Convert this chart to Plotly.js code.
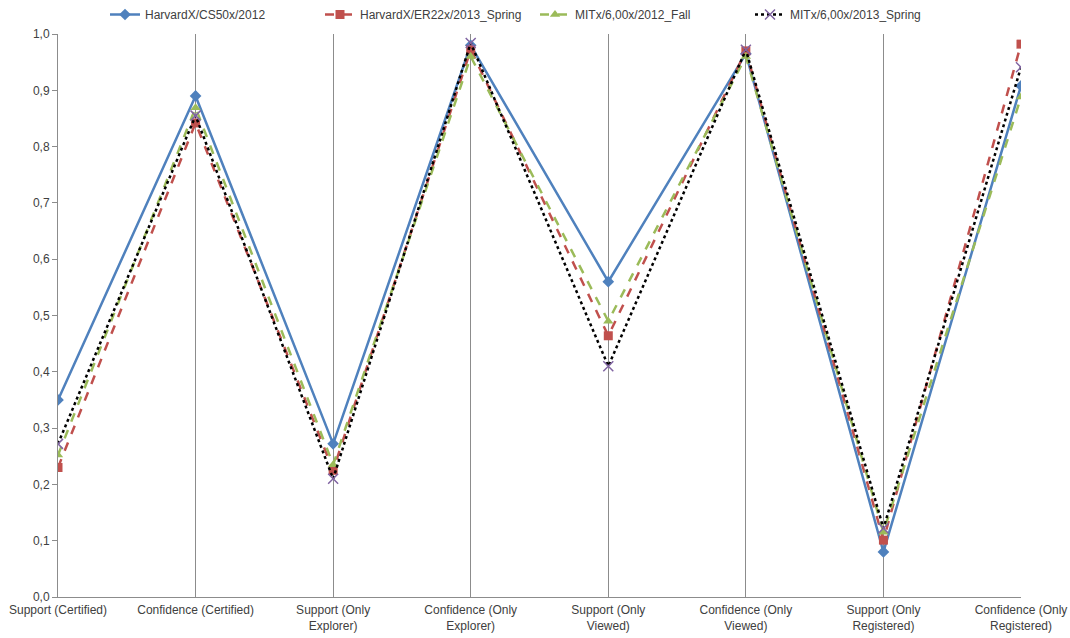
<!DOCTYPE html>
<html><head><meta charset="utf-8">
<script src="https://cdn.plot.ly/plotly-3.0.1.min.js"></script>
<style>html,body{margin:0;padding:0;background:#fff}#chart{width:1070px;height:638px}</style>
</head><body><div id="chart"></div>
<script>
const categories = ["Support (Certified)", "Confidence (Certified)", "Support (Only<br>Explorer)", "Confidence (Only<br>Explorer)", "Support (Only<br>Viewed)", "Confidence (Only<br>Viewed)", "Support (Only<br>Registered)", "Confidence (Only<br>Registered)"];
const seriesNames = ["HarvardX/CS50x/2012", "HarvardX/ER22x/2013_Spring", "MITx/6,00x/2012_Fall", "MITx/6,00x/2013_Spring"];
const cs50 = [0.35, 0.89, 0.272, 0.98, 0.56, 0.965, 0.08, 0.908];
const er22 = [0.23, 0.842, 0.225, 0.972, 0.464, 0.97, 0.101, 0.982];
const mit2012 = [0.252, 0.869, 0.235, 0.96, 0.49, 0.96, 0.115, 0.888];
const mit2013 = [0.272, 0.855, 0.21, 0.984, 0.41, 0.972, 0.122, 0.941];
const yTicks = [0, 0.1, 0.2, 0.3, 0.4, 0.5, 0.6, 0.7, 0.8, 0.9, 1.0];

const traces = [
  {x: categories, y: cs50, name: seriesNames[0], mode: "lines+markers",
   line: {color: "#4f81bd", width: 2.5}, marker: {symbol: "diamond", size: 9, color: "#4f81bd"}},
  {x: categories, y: er22, name: seriesNames[1], mode: "lines+markers",
   line: {color: "#c0504d", width: 2.5, dash: "dash"}, marker: {symbol: "square", size: 9, color: "#c0504d"}},
  {x: categories, y: mit2012, name: seriesNames[2], mode: "lines+markers",
   line: {color: "#9bbb59", width: 2.5, dash: "dash"}, marker: {symbol: "triangle-up", size: 9, color: "#9bbb59"}},
  {x: categories, y: mit2013, name: seriesNames[3], mode: "lines+markers",
   line: {color: "#000000", width: 2.5, dash: "dot"}, marker: {symbol: "x-thin-open", size: 10, color: "#8064a2", line: {color: "#8064a2", width: 1.5}}}
];

const layout = {
  width: 1070, height: 638,
  margin: {l: 58, r: 49, t: 34, b: 41, autoexpand: false},
  paper_bgcolor: "#ffffff", plot_bgcolor: "#ffffff",
  separators: ",.",
  font: {family: "'Liberation Sans Narrow', 'Liberation Sans', Arial, sans-serif", size: 12, color: "#404040"},
  showlegend: true,
  legend: {orientation: "h", xref: "container", x: 0.5, xanchor: "center", yref: "container", y: 1.0, yanchor: "top",
           font: {size: 12, color: "#404040"}, entrywidth: 170, traceorder: "normal"},
  xaxis: {type: "category", range: [0, 7], showgrid: true, gridcolor: "#8c8c8c", gridwidth: 1,
          showline: true, linecolor: "#8c8c8c", zeroline: false, ticks: "", ticklabelstandoff: 2,
          tickfont: {size: 12, color: "#404040"}, fixedrange: true, automargin: false},
  yaxis: {range: [0, 1.0], tickvals: yTicks, tickformat: ".1f", showgrid: false, zeroline: false,
          showline: true, linecolor: "#8c8c8c", ticks: "outside", ticklen: 5, tickcolor: "#8c8c8c",
          tickfont: {size: 12, color: "#404040"}, automargin: false}
};
Plotly.newPlot("chart", traces, layout, {displayModeBar: false, staticPlot: true});
</script></body></html>
